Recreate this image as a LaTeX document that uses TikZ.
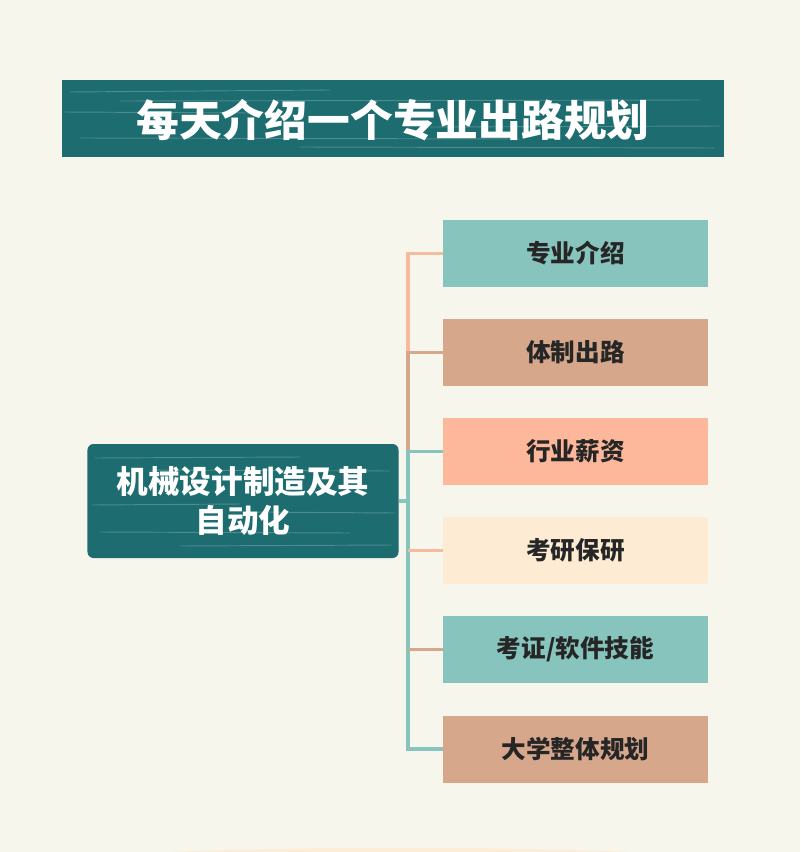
\documentclass[tikz,border=0pt]{standalone}
\usepackage{fontspec}
\newfontfamily\cjk{Noto Sans CJK SC}
\usepackage{xcolor}
\definecolor{paper}{HTML}{F7F6EC}
\definecolor{deepteal}{HTML}{1C6C70}
\definecolor{mint}{HTML}{86C4BD}
\definecolor{clay}{HTML}{D7A78B}
\definecolor{salmon}{HTML}{FDB89B}
\definecolor{cream}{HTML}{FDEBD3}
\definecolor{peachline}{HTML}{F6BA9E}
\usetikzlibrary{positioning,calc}
\tikzset{
  topic/.style={rectangle, minimum width=7.95cm, minimum height=2.01cm, inner sep=0pt,
    font=\cjk\bfseries\fontsize{21}{25}\selectfont, text=black!85},
  branch/.style={line width=3.2pt},
  streak/.style={white, opacity=0.22, line width=0.8pt}
}

\begin{document}
\begin{tikzpicture}[x=0.03cm, y=-0.03cm]
  \fill[paper] (0,0) rectangle (800,852);
  \useasboundingbox (0,0) rectangle (800,852);
  \fill[cream, opacity=0.8] (400,858) ellipse (290 and 10);

  \node[fill=deepteal, minimum width=19.86cm, minimum height=2.31cm, inner sep=0pt] (banner) at (393,118.5) {};
  \draw[streak] (70,92) -- (330,90);
  \draw[streak] (120,101) -- (700,100);
  \draw[streak] (64,112) -- (250,113);
  \draw[streak] (430,127) -- (720,126);
  \draw[streak] (80,138) -- (520,139);
  \draw[streak] (300,147) -- (715,148);
  \node[font=\cjk\bfseries\fontsize{36.5}{44}\selectfont, text=white] (title) at ($(banner.center)+(0,2)$) {每天介绍一个专业出路规划};

  \node[fill=deepteal, rounded corners=0.18cm, minimum width=9.33cm, minimum height=3.42cm, inner sep=0pt] (core) at (243,501) {};
  \draw[streak] (95,458) -- (300,457);
  \draw[streak] (150,470) -- (390,471);
  \draw[streak] (92,505) -- (240,504);
  \draw[streak] (250,512) -- (395,513);
  \draw[streak] (100,532) -- (350,533);
  \draw[streak] (180,546) -- (392,545);
  \node[font=\cjk\bfseries\fontsize{27}{34}\selectfont, text=white, align=center] (coretext) at (core.center) {机械设计制造及其\\自动化};

  \node[topic, fill=mint]   (t1) at (575.5,253.5) {专业介绍};
  \node[topic, fill=clay]   (t2) at (575.5,352.5) {体制出路};
  \node[topic, fill=salmon] (t3) at (575.5,451.5) {行业薪资};
  \node[topic, fill=cream]  (t4) at (575.5,550.5) {考研保研};
  \node[topic, fill=mint]   (t5) at (575.5,649.5) {考证/软件技能};
  \node[topic, fill=clay]   (t6) at (575.5,749)   {大学整体规划};

  \coordinate (trunk) at (408,0);
  \draw[branch, peachline] (t1.west) -- (t1.west -| trunk) -- (t2.west -| trunk);
  \draw[branch, clay] (t2.west) -- (t2.west -| trunk) -- (t3.west -| trunk);
  \draw[branch, mint] (t3.west) -- (t3.west -| trunk) -- (t6.west -| trunk) -- (t6.west);
  \draw[branch, peachline] (t4.west) -- (t4.west -| trunk);
  \draw[branch, clay] (t5.west) -- (t5.west -| trunk);
  \draw[branch, mint] (core.east) -- (core.east -| trunk);
\end{tikzpicture}
\end{document}
